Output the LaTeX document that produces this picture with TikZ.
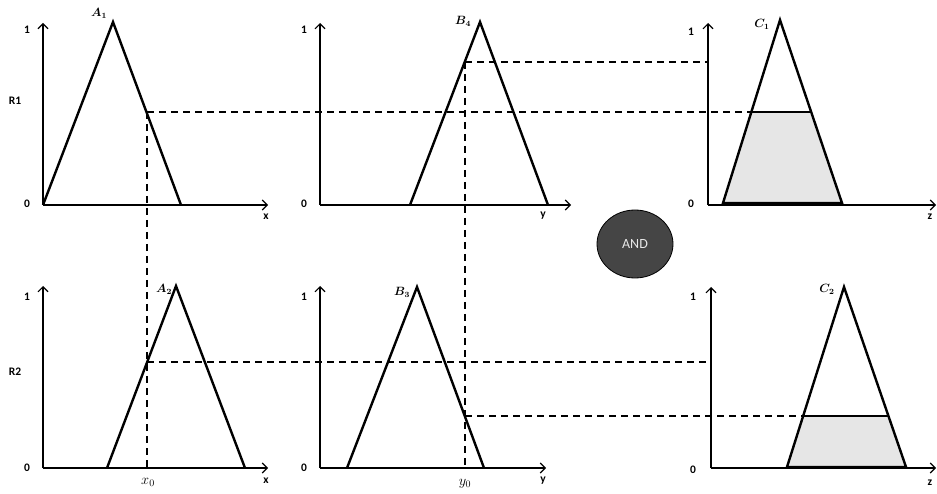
\documentclass[tikz,border=0pt]{standalone}
\usepackage{fontspec}
\setsansfont{Carlito}
\usetikzlibrary{arrows.meta,calc,shapes.geometric}
\definecolor{lightshade}{HTML}{E6E6E6}
\definecolor{andfill}{HTML}{454545}
\definecolor{andtext}{HTML}{E8E8E8}
\begin{document}
\begin{tikzpicture}[x=1pt,y=-1pt,
  axis/.style={line width=1.1pt,-{Straight Barb[length=5pt,width=10pt,line width=1.1pt]}},
  mf/.style={line width=2.4pt,line join=miter},
  cut/.style={line width=2.2pt},
  guide/.style={dash pattern=on 7pt off 5pt,line width=1.5pt},
  tick/.style={font=\sffamily\bfseries\fontsize{11.5}{13}\selectfont,inner sep=0pt},
  mlab/.style={font=\boldmath\fontsize{12}{14}\selectfont,inner sep=0pt},
  vlab/.style={font=\fontsize{14}{16}\selectfont,inner sep=0pt},
  andnode/.style={ellipse,draw=black,line width=0.8pt,fill=andfill,text=andtext,
    minimum width=76pt,minimum height=68pt,inner sep=0pt,
    font=\sffamily\fontsize{14}{16}\selectfont}]
\useasboundingbox (0,0) rectangle (937,494);

% ---------- key points ----------
\coordinate (o1) at (43,205);  \coordinate (y1) at (43,23);  \coordinate (x1) at (268,205);
\coordinate (o2) at (320,205); \coordinate (y2) at (320,23); \coordinate (x2) at (571,205);
\coordinate (o3) at (708,205); \coordinate (y3) at (708,23); \coordinate (x3) at (936,205);
\coordinate (o4) at (43,468);  \coordinate (y4) at (43,286); \coordinate (x4) at (268,468);
\coordinate (o5) at (320,468); \coordinate (y5) at (320,286);\coordinate (x5) at (546,468);
\coordinate (o6) at (711,468); \coordinate (y6) at (711,287);\coordinate (x6) at (936,468);
% triangles
\coordinate (A1l) at (43,205);  \coordinate (A1t) at (113,22);  \coordinate (A1r) at (181,205);
\coordinate (B4l) at (410,205); \coordinate (B4t) at (480,22);  \coordinate (B4r) at (548,205);
\coordinate (C1l) at (723,203); \coordinate (C1t) at (780,20);  \coordinate (C1r) at (842,203);
\coordinate (A2l) at (107,468); \coordinate (A2t) at (176,286); \coordinate (A2r) at (245,468);
\coordinate (B3l) at (347,468); \coordinate (B3t) at (417,287); \coordinate (B3r) at (484,468);
\coordinate (C2l) at (787,467); \coordinate (C2t) at (844,287); \coordinate (C2r) at (906,467);
% clip points
\coordinate (C1a) at (751.3,112); \coordinate (C1b) at (811.2,112);
\coordinate (C2a) at (803,416);   \coordinate (C2b) at (888.5,416);
% guide points
\coordinate (pA1) at (147,112); \coordinate (qA1) at (147,468);
\coordinate (pA2) at (147,362);
\coordinate (pB4) at (465,62);  \coordinate (qB4) at (465,468);
\coordinate (pB3) at (465,416);
\coordinate (e1) at (708,62);   \coordinate (e3) at (711,362);

% ---------- shaded consequents ----------
\fill[lightshade] (C1l) -- (C1a) -- (C1b) -- (C1r) -- cycle;
\fill[lightshade] (C2l) -- (C2a) -- (C2b) -- (C2r) -- cycle;

% ---------- guides ----------
\draw[guide] (pA1) -- (C1a);
\draw[guide] (pA1) -- (qA1);
\draw[guide] (pB4) -- (e1);
\draw[guide] (pB4) -- (qB4);
\draw[guide] (pA2) -- (e3);
\draw[guide] (pB3) -- (C2a);

% ---------- axes ----------
\foreach \i in {1,...,6}{
  \draw[axis] (o\i) -- (y\i);
  \draw[axis] (o\i) -- (x\i);
}

% ---------- membership functions ----------
\draw[mf] (A1l) -- (A1t) -- (A1r);
\draw[mf] (B4l) -- (B4t) -- (B4r);
\draw[mf] (C1l) -- (C1t) -- (C1r) -- cycle;
\draw[cut] (C1a) -- (C1b);
\draw[mf] (A2l) -- (A2t) -- (A2r);
\draw[mf] (B3l) -- (B3t) -- (B3r);
\draw[mf] (C2l) -- (C2t) -- (C2r) -- cycle;
\draw[line width=1.6pt] (C2a) -- (C2b);

% ---------- labels ----------
\node[tick] (n11) at (27,30) {1};  \node[tick] (n10) at (27,204) {0};
\node[tick] (n21) at (304,30) {1}; \node[tick] (n20) at (304,204) {0};
\node[tick] (n31) at (691,32) {1}; \node[tick] (n30) at (691,204) {0};
\node[tick] (n41) at (27,297) {1}; \node[tick] (n40) at (27,468) {0};
\node[tick] (n51) at (304,297) {1};\node[tick] (n50) at (304,468) {0};
\node[tick] (n61) at (693,297) {1};\node[tick] (n60) at (693,470) {0};
\node[tick] (ax1) at (266,217) {x};
\node[tick] (ax2) at (543,216) {y};
\node[tick] (ax3) at (930,217) {z};
\node[tick] (ax4) at (266,481) {x};
\node[tick] (ax5) at (543,481) {y};
\node[tick] (ax6) at (930,483) {z};
\node[tick] (R1) at (15,101) {R1};
\node[tick] (R2) at (15,372) {R2};
\node[mlab] (lA1) at (99,13) {$A_1$};
\node[mlab] (lB4) at (463,21) {$B_4$};
\node[mlab] (lC1) at (762,24) {$C_1$};
\node[mlab] (lA2) at (164,289) {$A_2$};
\node[mlab] (lB3) at (402,292) {$B_3$};
\node[mlab] (lC2) at (827,289) {$C_2$};
\node[vlab] (lx0) at (148,482) {$x_0$};
\node[vlab] (ly0) at (465,484) {$y_0$};

\node[andnode] (and) at (635,244) {AND};
\end{tikzpicture}
\end{document}
